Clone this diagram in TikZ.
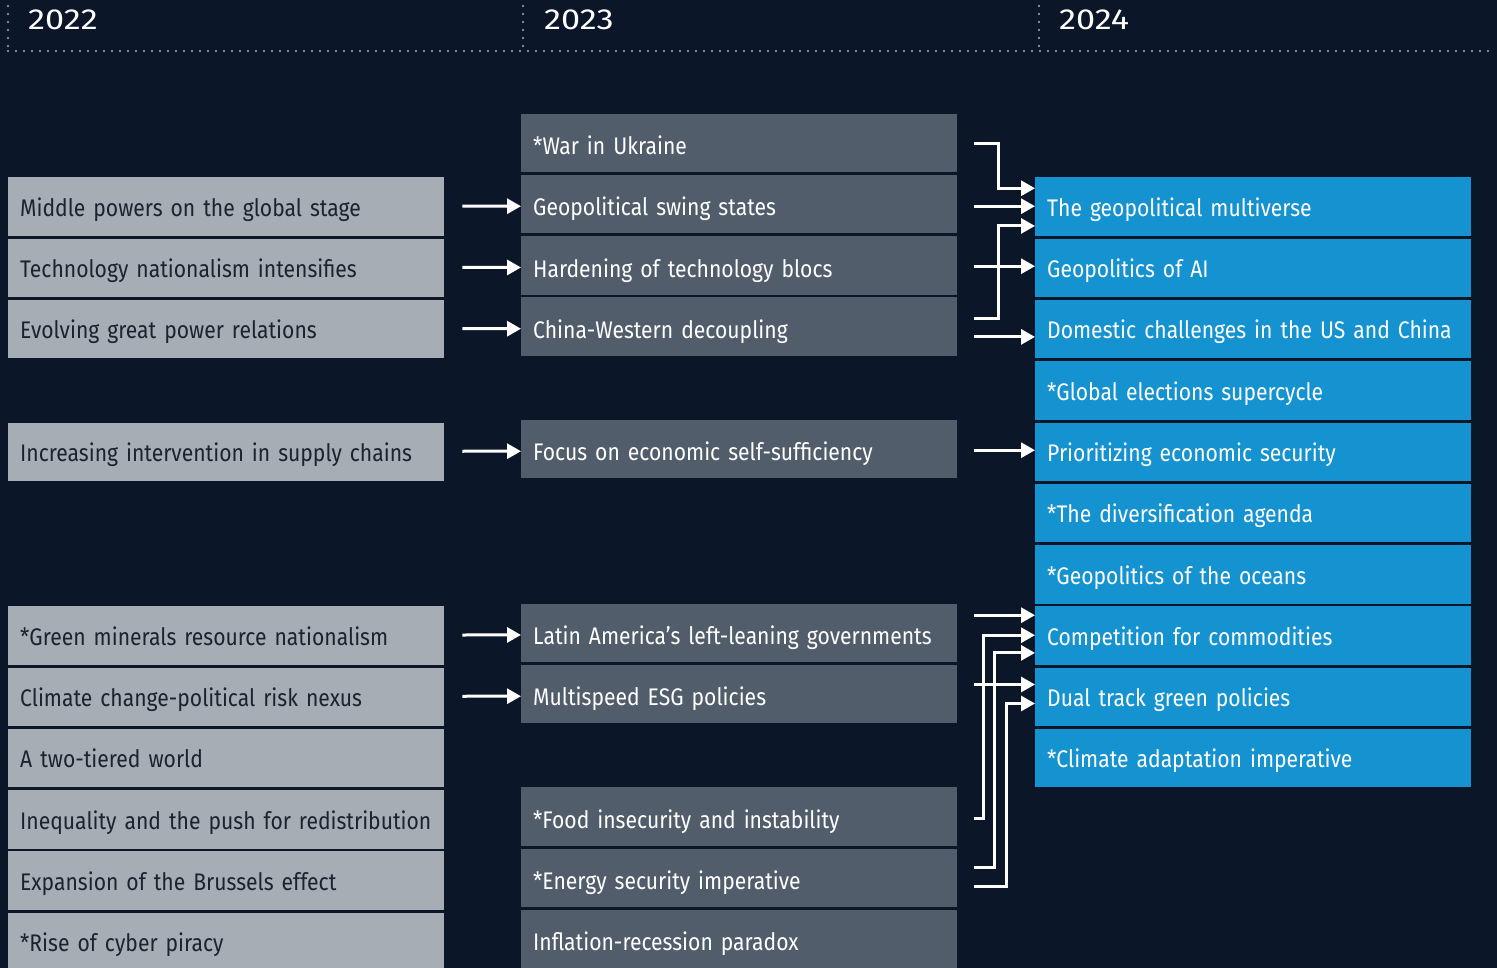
\documentclass[tikz,border=0pt]{standalone}
\usepackage{fontspec}
\setmainfont[FakeStretch=0.88]{Fira Sans}
\newfontfamily\yearfont[FakeStretch=1.18]{Fira Sans}
\usetikzlibrary{arrows.meta,calc}
\definecolor{bg}{HTML}{0B1628}
\definecolor{gbox}{HTML}{A6ADB4}
\definecolor{sbox}{HTML}{525D6B}
\definecolor{bbox}{HTML}{1592D0}
\definecolor{dtext}{HTML}{1B2230}
\definecolor{dotc}{HTML}{A9B0B8}
\tikzset{
  card/.style={anchor=north west, minimum height=58.5pt, text width=412pt, inner xsep=12pt, inner ysep=0pt, align=left, text height=19.5pt, text depth=0pt, font=\fontsize{24}{28}\selectfont, execute at begin node={\hbox\bgroup}, execute at end node={\egroup}},
  c1/.style={card, fill=gbox, text=dtext},
  c2/.style={card, fill=sbox, text=white, text height=23.5pt},
  c3/.style={card, fill=bbox, text=white},
  conn/.style={draw=white, line width=3pt, -{Triangle[length=14pt,width=15pt]}},
  dotl/.style={draw=dotc, line width=2.2pt, line cap=round, dash pattern=on 0pt off 8pt},
  year/.style={anchor=base west, text=white, inner sep=0pt, font=\yearfont\fontsize{29}{34}\selectfont}
}
\begin{document}
\begin{tikzpicture}[x=1pt,y=-1pt]
\fill[bg] (0,0) rectangle (1497,968);
\useasboundingbox (0,0) rectangle (1497,968);
\begin{scope}
\clip (0,0) rectangle (1497,968);
% header
\draw[dotl] (8,6) -- (8,50);
\draw[dotl] (523,6) -- (523,50);
\draw[dotl] (1039,6) -- (1039,50);
\draw[dotl] (8,51) -- (1492,51);
\node[year] (y22) at (28,30) {2022};
\node[year] (y23) at (544,30) {2023};
\node[year] (y24) at (1059,30) {2024};
% column 1
\node[c1] (a1) at (8,{116.05+61.25*1}) {Middle powers on the global stage};
\node[c1] (a2) at (8,{116.05+61.25*2}) {Technology nationalism intensifies};
\node[c1] (a3) at (8,{116.05+61.25*3}) {Evolving great power relations};
\node[c1] (a5) at (8,{116.05+61.25*5}) {Increasing intervention in supply chains};
\node[c1] (a8) at (8,{116.05+61.25*8}) {*Green minerals resource nationalism};
\node[c1] (a9) at (8,{116.05+61.25*9}) {Climate change-political risk nexus};
\node[c1] (a10) at (8,{116.05+61.25*10}) {A two-tiered world};
\node[c1] (a11) at (8,{116.05+61.25*11}) {Inequality and the push for redistribution};
\node[c1] (a12) at (8,{116.05+61.25*12}) {Expansion of the Brussels effect};
\node[c1] (a13) at (8,{116.05+61.25*13}) {*Rise of cyber piracy};
% column 2
\node[c2] (b0) at (521,{113.5+61.25*0}) {*War in Ukraine};
\node[c2] (b1) at (521,{113.5+61.25*1}) {Geopolitical swing states};
\node[c2] (b2) at (521,{113.5+61.25*2}) {Hardening of technology blocs};
\node[c2] (b3) at (521,{113.5+61.25*3}) {China-Western decoupling};
\node[c2] (b5) at (521,{113.5+61.25*5}) {Focus on economic self-sufficiency};
\node[c2] (b8) at (521,{113.5+61.25*8}) {Latin America’s left-leaning governments};
\node[c2] (b9) at (521,{113.5+61.25*9}) {Multispeed ESG policies};
\node[c2] (b11) at (521,{113.5+61.25*11}) {*Food insecurity and instability};
\node[c2] (b12) at (521,{113.5+61.25*12}) {*Energy security imperative};
\node[c2] (b13) at (521,{113.5+61.25*13}) {Inflation-recession paradox};
% column 3
\node[c3] (c1) at (1035,{116.05+61.25*1}) {The geopolitical multiverse};
\node[c3] (c2) at (1035,{116.05+61.25*2}) {Geopolitics of AI};
\node[c3] (c3) at (1035,{116.05+61.25*3}) {Domestic challenges in the US and China};
\node[c3] (c4) at (1035,{116.05+61.25*4}) {*Global elections supercycle};
\node[c3] (c5) at (1035,{116.05+61.25*5}) {Prioritizing economic security};
\node[c3] (c6) at (1035,{116.05+61.25*6}) {*The diversification agenda};
\node[c3] (c7) at (1035,{116.05+61.25*7}) {*Geopolitics of the oceans};
\node[c3] (c8) at (1035,{116.05+61.25*8}) {Competition for commodities};
\node[c3] (c9) at (1035,{116.05+61.25*9}) {Dual track green policies};
\node[c3] (c10) at (1035,{116.05+61.25*10}) {*Climate adaptation imperative};
% left connectors (yshift is in page direction: negative = down)
\foreach \i in {1,2,3,5,8,9}{
  \draw[conn] ([xshift=18pt,yshift=0.5pt]a\i.east) -- ([yshift=-2pt]b\i.west);
}
% right connectors
\draw[conn] ([xshift=17pt,yshift=-0.25pt]b0.east) -| ([xshift=-37pt,yshift=18.5pt]c1.west) -- ([yshift=18.5pt]c1.west);
\draw[conn] ([xshift=17pt,yshift=-2pt]b1.east) -- ([yshift=0.55pt]c1.west);
\draw[conn] ([xshift=17pt,yshift=8.2pt]b3.east) -| ([xshift=-37pt,yshift=-19.2pt]c1.west) -- ([yshift=-19.2pt]c1.west);
\draw[conn] ([xshift=17pt,yshift=-0.75pt]b2.east) -- ([yshift=1.8pt]c2.west);
\draw[conn] ([xshift=17pt,yshift=-10.2pt]b3.east) -- ([yshift=-7.65pt]c3.west);
\draw[conn] ([xshift=17pt,yshift=-1pt]b5.east) -- ([yshift=1.55pt]c5.west);
\draw[conn] ([xshift=17pt,yshift=17.75pt]b8.east) -- ([yshift=20.3pt]c8.west);
\draw[conn] ([xshift=17pt,yshift=-1.8pt]b11.east) -| ([xshift=-52pt,yshift=0.3pt]c8.west) -- ([yshift=0.3pt]c8.west);
\draw[conn] ([xshift=17pt,yshift=10.45pt]b12.east) -| ([xshift=-41pt,yshift=-17.4pt]c8.west) -- ([yshift=-17.4pt]c8.west);
\draw[conn] ([xshift=17pt,yshift=9.7pt]b9.east) -- ([yshift=12.25pt]c9.west);
\draw[conn] ([xshift=17pt,yshift=-8.25pt]b12.east) -| ([xshift=-29pt,yshift=-6.75pt]c9.west) -- ([yshift=-6.75pt]c9.west);
\end{scope}
\end{tikzpicture}
\end{document}
